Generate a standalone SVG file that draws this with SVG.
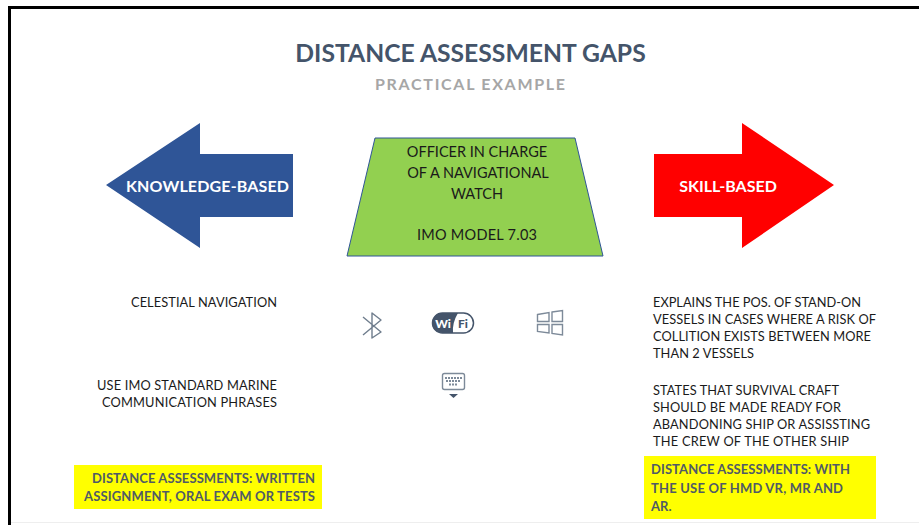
<svg xmlns="http://www.w3.org/2000/svg" width="919" height="525" viewBox="0 0 919 525">
<style>
text{font-family:Lato,"Open Sans",sans-serif}
.b{font-size:12.8px;fill:#1a1a1a}
.c{font-size:14.5px;fill:#1a1a1a;text-anchor:middle}
.h{font-size:13px;font-weight:700;fill:#505a66}
.a{font-size:16px;font-weight:700;fill:#fff;text-anchor:middle}
.i{fill:none;stroke:#7d8a99;stroke-width:1.4}
</style>
<rect width="919" height="525" fill="#fff"/>
<path d="M9.500 525V7.500H919" fill="none" stroke="#000" stroke-width="3"/>
<path d="M11 522.500H919" stroke="#eee" stroke-width="1"/>
<text x="470.500" y="62" text-anchor="middle" font-size="24.700" font-weight="700" fill="#44546a">DISTANCE ASSESSMENT GAPS</text>
<text x="375" y="90" textLength="190" font-size="16" font-weight="700" fill="#a6a6a6">PRACTICAL EXAMPLE</text>
<g id="knowledge">
<path d="M106 185L200 123V154H293V217H200V248Z" fill="#2f5597"/>
<text class="a" x="207.500" y="192" textLength="163">KNOWLEDGE-BASED</text>
</g>
<g id="officer">
<path d="M375 138H575L603 256H347Z" fill="#92d050" stroke="#2f5597" stroke-width="1"/>
<text class="c" x="477" y="157">OFFICER IN CHARGE</text>
<text class="c" x="478" y="178">OF A NAVIGATIONAL</text>
<text class="c" x="477" y="199">WATCH</text>
<text class="c" x="477" y="240" textLength="120">IMO MODEL 7.03</text>
</g>
<g id="skill">
<path d="M654 154H742V123L834 185L742 248V217H654Z" fill="#ff0000"/>
<text class="a" x="728" y="192">SKILL-BASED</text>
</g>
<g id="left-text">
<text class="b" x="131" y="307" textLength="146">CELESTIAL NAVIGATION</text>
<text class="b" x="97" y="390" textLength="180">USE IMO STANDARD MARINE</text>
<text class="b" x="102" y="407" textLength="175">COMMUNICATION PHRASES</text>
</g>
<g id="right-text">
<text class="b" x="653" y="307" textLength="208">EXPLAINS THE POS. OF STAND-ON</text>
<text class="b" x="653" y="324" textLength="223">VESSELS IN CASES WHERE A RISK OF</text>
<text class="b" x="653" y="341" textLength="218">COLLITION EXISTS BETWEEN MORE</text>
<text class="b" x="653" y="358" textLength="101">THAN 2 VESSELS</text>
<text class="b" x="653" y="395" textLength="186">STATES THAT SURVIVAL CRAFT</text>
<text class="b" x="653" y="412" textLength="188">SHOULD BE MADE READY FOR</text>
<text class="b" x="653" y="429" textLength="217">ABANDONING SHIP OR ASSISSTING</text>
<text class="b" x="653" y="446" textLength="196">THE CREW OF THE OTHER SHIP</text>
</g>
<g id="icon-bluetooth"><path class="i" stroke-linejoin="round" d="M363 317L381 332L372 338V313L381 320L363 335" style="stroke:#6f7d8d"/></g>
<g id="icon-wifi">
<rect x="432.500" y="313" width="41" height="20" rx="10" fill="#fff" stroke="#44546a" stroke-width="1.500"/>
<path d="M442 313H458Q452 323 453 333H442A10 10 0 0 1 442 313Z" fill="#44546a"/>
<text x="443" y="328" font-size="12" font-weight="900" fill="#fff" text-anchor="middle">Wi</text>
<text x="463" y="328" font-size="12" font-weight="900" fill="#44546a" text-anchor="middle">Fi</text>
</g>
<g id="icon-windows"><path class="i" d="M537.500 314.500L549 312.500V321.500H537.500ZM552 312L562.500 310.500V321.500H552ZM537.500 324.500H549V333L537.500 331.500ZM552 324.500H562.500V335L552 333.500Z"/></g>
<g id="icon-keyboard">
<rect x="442.500" y="373.500" width="22" height="16" rx="2" class="i"/>
<path d="M445 378H462M446 381H461M449 384.500H458" stroke="#7d8a99" stroke-width="2" stroke-dasharray="2 1" fill="none"/>
<path d="M449 394H458L453.500 398Z" fill="#44546a"/>
</g>
<g id="left-box">
<rect x="74" y="465" width="248" height="44" fill="#ffff00"/>
<text class="h" x="92" y="483" textLength="223">DISTANCE ASSESSMENTS: WRITTEN</text>
<text class="h" x="84" y="501" textLength="231">ASSIGNMENT, ORAL EXAM OR TESTS</text>
</g>
<g id="right-box">
<rect x="644" y="456" width="232" height="63" fill="#ffff00"/>
<text class="h" x="651" y="474" textLength="199">DISTANCE ASSESSMENTS: WITH</text>
<text class="h" x="651" y="493" textLength="192">THE USE OF HMD VR, MR AND</text>
<text class="h" x="651" y="511">AR.</text>
</g>
</svg>
